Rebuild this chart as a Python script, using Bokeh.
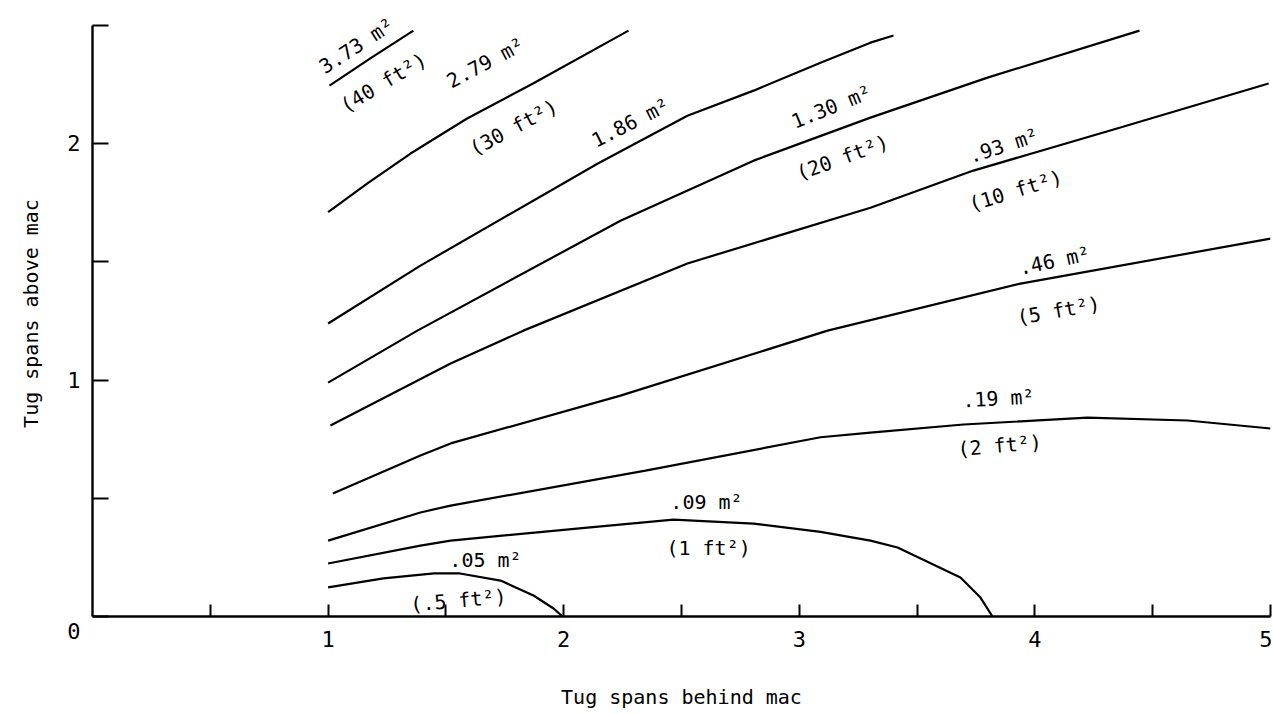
from bokeh.plotting import figure
from bokeh.models import Range1d, FixedTicker, LabelSet, ColumnDataSource
from bokeh.core.properties import value
from bokeh.embed import file_html
from bokeh.resources import INLINE
import math

# ---- data (x: tug spans behind mac, y: tug spans above mac)
c40_x = [1.006, 1.184, 1.362]
c40_y = [2.245, 2.364, 2.478]

c30_x = [1.0, 1.167, 1.35, 1.59, 1.87, 2.275]
c30_y = [1.71, 1.832, 1.958, 2.106, 2.254, 2.478]

c186_x = [1.0, 1.392, 2.143, 2.525, 2.806, 3.09, 3.302, 3.40]
c186_y = [1.239, 1.484, 1.915, 2.118, 2.224, 2.342, 2.427, 2.457]

c130_x = [1.0, 1.379, 2.241, 2.806, 3.302, 3.799, 4.444]
c130_y = [0.989, 1.209, 1.674, 1.928, 2.110, 2.279, 2.478]

c093_x = [1.01, 1.52, 1.829, 2.525, 3.302, 3.739, 4.363, 4.992]
c093_y = [0.808, 1.070, 1.209, 1.493, 1.729, 1.886, 2.068, 2.254]

c046_x = [1.02, 1.392, 1.52, 2.241, 3.12, 3.939, 5.0]
c046_y = [0.520, 0.681, 0.732, 0.934, 1.209, 1.408, 1.598]

c019_x = [1.0, 1.392, 1.52, 2.347, 3.09, 3.302, 3.697, 4.223, 4.648, 5.0]
c019_y = [0.321, 0.440, 0.469, 0.617, 0.758, 0.778, 0.812, 0.841, 0.829, 0.795]

c009_x = [1.0, 1.392, 1.52, 2.101, 2.466, 2.806, 3.09, 3.302, 3.417, 3.684, 3.769, 3.82]
c009_y = [0.224, 0.300, 0.321, 0.376, 0.410, 0.393, 0.358, 0.321, 0.292, 0.165, 0.080, 0.0]

c005_x = [1.0, 1.235, 1.45, 1.56, 1.732, 1.872, 1.957, 1.995]
c005_y = [0.123, 0.161, 0.182, 0.182, 0.152, 0.089, 0.034, 0.0]

curves = [(c40_x, c40_y), (c30_x, c30_y), (c186_x, c186_y), (c130_x, c130_y),
          (c093_x, c093_y), (c046_x, c046_y), (c019_x, c019_y), (c009_x, c009_y),
          (c005_x, c005_y)]

label_text = ["3.73 m²", "(40 ft²)", "2.79 m²", "(30 ft²)", "1.86 m²", "1.30 m²",
              "(20 ft²)", ".93 m²", "(10 ft²)", ".46 m²", "(5 ft²)", ".19 m²",
              "(2 ft²)", ".09 m²", "(1 ft²)", ".05 m²", "(.5 ft²)"]
label_x = [1.121, 1.235, 1.668, 1.787, 2.284, 3.137, 3.183, 3.867, 3.918, 4.083,
           4.100, 3.845, 3.850, 2.606, 2.615, 1.668, 1.553]
label_y = [2.414, 2.258, 2.342, 2.068, 2.089, 2.156, 1.941, 1.992, 1.801, 1.505,
           1.294, 0.922, 0.723, 0.486, 0.288, 0.237, 0.068]
label_angle_deg = [33, 31, 28, 28, 27, 22, 20, 18, 17, 12, 10, 3, 5, 0, 0, 0, 5]

x_ticks = [0.5, 1, 1.5, 2, 2.5, 3, 3.5, 4, 4.5, 5]
x_tick_labels = ["", "1", "", "2", "", "3", "", "4", "", "5"]
y_ticks = [0, 0.5, 1, 1.5, 2, 2.5]
y_tick_labels = ["\n0", "", "1", "", "2", ""]

x_title = "Tug spans behind mac"
y_title = "Tug spans above mac"

FONT = "DejaVu Sans Mono"

p = figure(width=1272, height=712, output_backend="svg", toolbar_location=None,
           x_range=Range1d(0, 5), y_range=Range1d(0, 2.563),
           min_border_left=92, min_border_right=2, min_border_top=10,
           min_border_bottom=96)
p.outline_line_color = None
p.xgrid.visible = False
p.ygrid.visible = False
p.background_fill_color = "white"
p.border_fill_color = "white"

for cx, cy in curves:
    p.line(cx, cy, line_color="black", line_width=2.2)

src = ColumnDataSource(dict(x=label_x, y=label_y, text=label_text,
                            angle=[math.radians(a) for a in label_angle_deg]))
labels = LabelSet(x="x", y="y", text="text", angle="angle", source=src,
                  text_font=value(FONT), text_font_size="20px",
                  text_align="center", text_baseline="middle", text_color="black")
p.add_layout(labels)

xa = p.xaxis[0]
xa.ticker = FixedTicker(ticks=x_ticks)
xa.major_label_overrides = {t: l for t, l in zip(x_ticks, x_tick_labels)}
ya = p.yaxis[0]
ya.ticker = FixedTicker(ticks=y_ticks)
ya.major_label_overrides = {t: l for t, l in zip(y_ticks, y_tick_labels)}
ya.bounds = (0, 2.5)

for ax in (xa, ya):
    ax.axis_line_width = 2.4
    ax.axis_line_color = "black"
    ax.major_tick_line_width = 2
    ax.major_tick_line_color = "black"
    ax.major_tick_out = 0
    ax.minor_tick_in = 0
    ax.minor_tick_out = 0
    ax.major_label_text_font = FONT
    ax.major_label_text_font_size = "22px"
    ax.major_label_text_color = "black"
    ax.axis_label_text_font = FONT
    ax.axis_label_text_font_size = "20px"
    ax.axis_label_text_font_style = "normal"
    ax.axis_label_text_color = "black"

xa.major_tick_in = 12
ya.major_tick_in = 16
xa.major_label_standoff = 14
ya.major_label_standoff = 12
xa.axis_label = x_title
ya.axis_label = y_title
xa.axis_label_standoff = 35
ya.axis_label_standoff = 21

open("out.html", "w").write(file_html(p, INLINE))
